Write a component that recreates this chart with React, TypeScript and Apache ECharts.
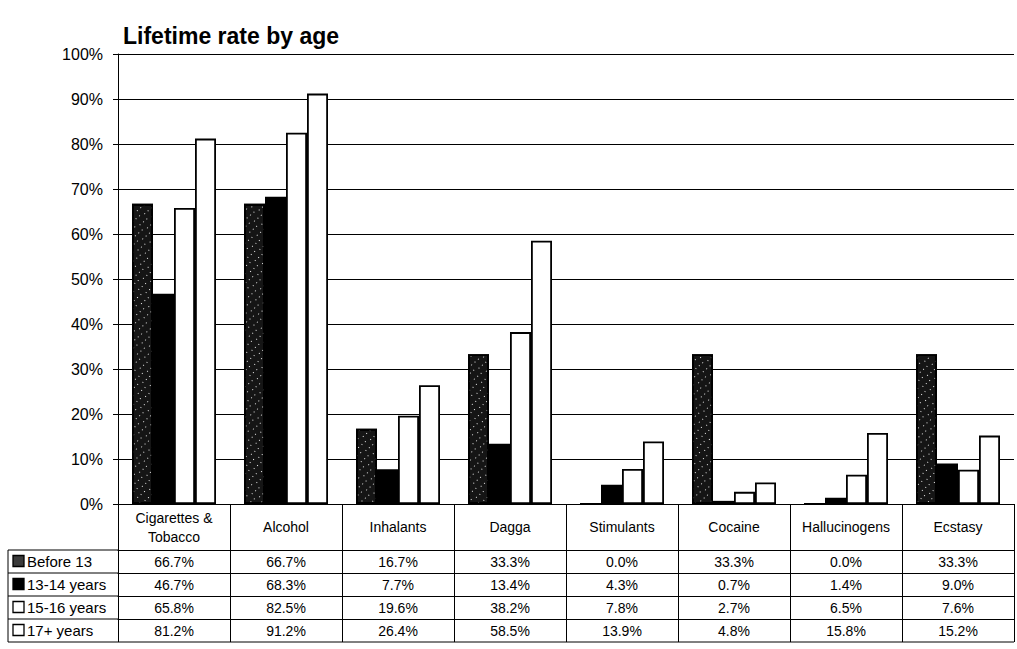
import React, { useEffect, useRef } from "react";
import * as echarts from "echarts";

const categories = [
  "Cigarettes & Tobacco",
  "Alcohol",
  "Inhalants",
  "Dagga",
  "Stimulants",
  "Cocaine",
  "Hallucinogens",
  "Ecstasy",
];
const seriesNames = ["Before 13", "13-14 years", "15-16 years", "17+ years"];
const before13 = [66.7, 66.7, 16.7, 33.3, 0.0, 33.3, 0.0, 33.3];
const years13to14 = [46.7, 68.3, 7.7, 13.4, 4.3, 0.7, 1.4, 9.0];
const years15to16 = [65.8, 82.5, 19.6, 38.2, 7.8, 2.7, 6.5, 7.6];
const years17plus = [81.2, 91.2, 26.4, 58.5, 13.9, 4.8, 15.8, 15.2];
const yTicks = [0, 10, 20, 30, 40, 50, 60, 70, 80, 90, 100];

const FONT = "Liberation Sans, Arial, sans-serif";
const GRID_L = 118;
const GRID_R = 3;
const GRID_T = 54;
const AXIS_Y = 504;
const HEADER_H = 46;
const ROW_H = 23;
const W = 1017;
const H = 649;

export default function App() {
  const ref = useRef<HTMLDivElement>(null);
  useEffect(() => {
    if (!ref.current) return;
    const chart = echarts.init(ref.current, null, { renderer: "svg" });
    const rows = [before13, years13to14, years15to16, years17plus];
    const fills = ["#151515", "#000000", "#ffffff", "#ffffff"];
    const speckle = {
      symbol: "rect",
      symbolSize: 1,
      color: "rgba(255,255,255,0.9)",
      dashArrayX: [
        [1, 7],
        [0, 4, 1, 3],
        [0, 2, 1, 5],
      ],
      dashArrayY: [1, 3],
      rotation: 0.4,
    };
    const fmt = (v: number) => v.toFixed(1) + "%";

    const headerAxis: any = {
      type: "category",
      gridIndex: 0,
      position: "bottom",
      data: categories,
      axisLine: { show: true, lineStyle: { color: "#000", width: 1 } },
      axisTick: {
        show: true,
        interval: 0,
        length: HEADER_H,
        lineStyle: { color: "#000", width: 1 },
      },
      axisLabel: {
        interval: 0,
        margin: HEADER_H / 2,
        verticalAlign: "middle",
        lineHeight: 19,
        fontSize: 14,
        color: "#000",
        fontFamily: FONT,
        formatter: (v: string) => v.replace(" & ", " &\n"),
      },
      splitLine: { show: false },
    };
    const rowAxes: any[] = rows.map((row, k) => ({
      type: "category",
      gridIndex: 0,
      position: "bottom",
      offset: HEADER_H + ROW_H * k,
      data: categories,
      axisLine: { show: true, lineStyle: { color: "#000", width: 1 } },
      axisTick: {
        show: true,
        interval: 0,
        length: ROW_H,
        lineStyle: { color: "#000", width: 1 },
      },
      axisLabel: {
        interval: 0,
        margin: ROW_H / 2,
        verticalAlign: "middle",
        fontSize: 14,
        color: "#000",
        fontFamily: FONT,
        formatter: (_v: string, i: number) => fmt(row[i]),
      },
      splitLine: { show: false },
    }));

    const tableTop = AXIS_Y + HEADER_H;
    const tableBottom = tableTop + ROW_H * rows.length;
    const graphics: any[] = [];
    for (let k = 0; k <= rows.length; k++) {
      graphics.push({
        type: "line",
        shape: {
          x1: 8,
          y1: tableTop + ROW_H * k,
          x2: k === rows.length ? W - GRID_R : GRID_L,
          y2: tableTop + ROW_H * k,
        },
        style: { stroke: "#000", lineWidth: 1 },
      });
    }
    graphics.push({
      type: "line",
      shape: { x1: 8, y1: tableTop, x2: 8, y2: tableBottom },
      style: { stroke: "#000", lineWidth: 1 },
    });
    seriesNames.forEach((name, k) => {
      const cy = tableTop + ROW_H * k + ROW_H / 2;
      graphics.push({
        type: "rect",
        shape: { x: 13, y: cy - 6, width: 11, height: 11 },
        style: {
          fill: k === 0 ? "#3a3a3a" : fills[k],
          stroke: "#000",
          lineWidth: 1.3,
        },
      });
      graphics.push({
        type: "text",
        x: 27,
        y: cy,
        style: {
          text: name,
          fontSize: 15,
          fontFamily: FONT,
          fill: "#000",
          verticalAlign: "middle",
          align: "left",
        },
      });
    });

    chart.setOption({
      animation: false,
      backgroundColor: "#fff",
      title: {
        text: "Lifetime rate by age",
        left: 118,
        top: 19,
        textStyle: {
          fontSize: 23,
          fontWeight: "bold",
          fontFamily: FONT,
          color: "#000",
        },
      },
      grid: {
        left: GRID_L,
        right: GRID_R,
        top: GRID_T,
        bottom: H - AXIS_Y,
        containLabel: false,
      },
      xAxis: [headerAxis, ...rowAxes],
      yAxis: {
        type: "value",
        min: yTicks[0],
        max: yTicks[yTicks.length - 1],
        interval: yTicks[1] - yTicks[0],
        axisLine: { show: true, lineStyle: { color: "#000", width: 1 } },
        axisTick: { show: true, length: 5, lineStyle: { color: "#000" } },
        axisLabel: {
          margin: 15,
          fontSize: 16,
          color: "#000",
          fontFamily: FONT,
          formatter: "{value}%",
        },
        splitLine: { show: true, lineStyle: { color: "#000", width: 1 } },
      },
      series: rows.map((row, k) => ({
        name: seriesNames[k],
        type: "bar",
        xAxisIndex: 0,
        data: row,
        barGap: "0%",
        barCategoryGap: "25%",
        itemStyle: {
          color: fills[k],
          borderColor: "#000",
          borderWidth: 1.8,
          ...(k === 0 ? { decal: speckle } : {}),
        },
      })),
      graphic: graphics,
    });
    return () => chart.dispose();
  }, []);
  return (
    <div
      ref={ref}
      style={{ position: "fixed", left: 0, top: 0, width: W, height: H }}
    />
  );
}
